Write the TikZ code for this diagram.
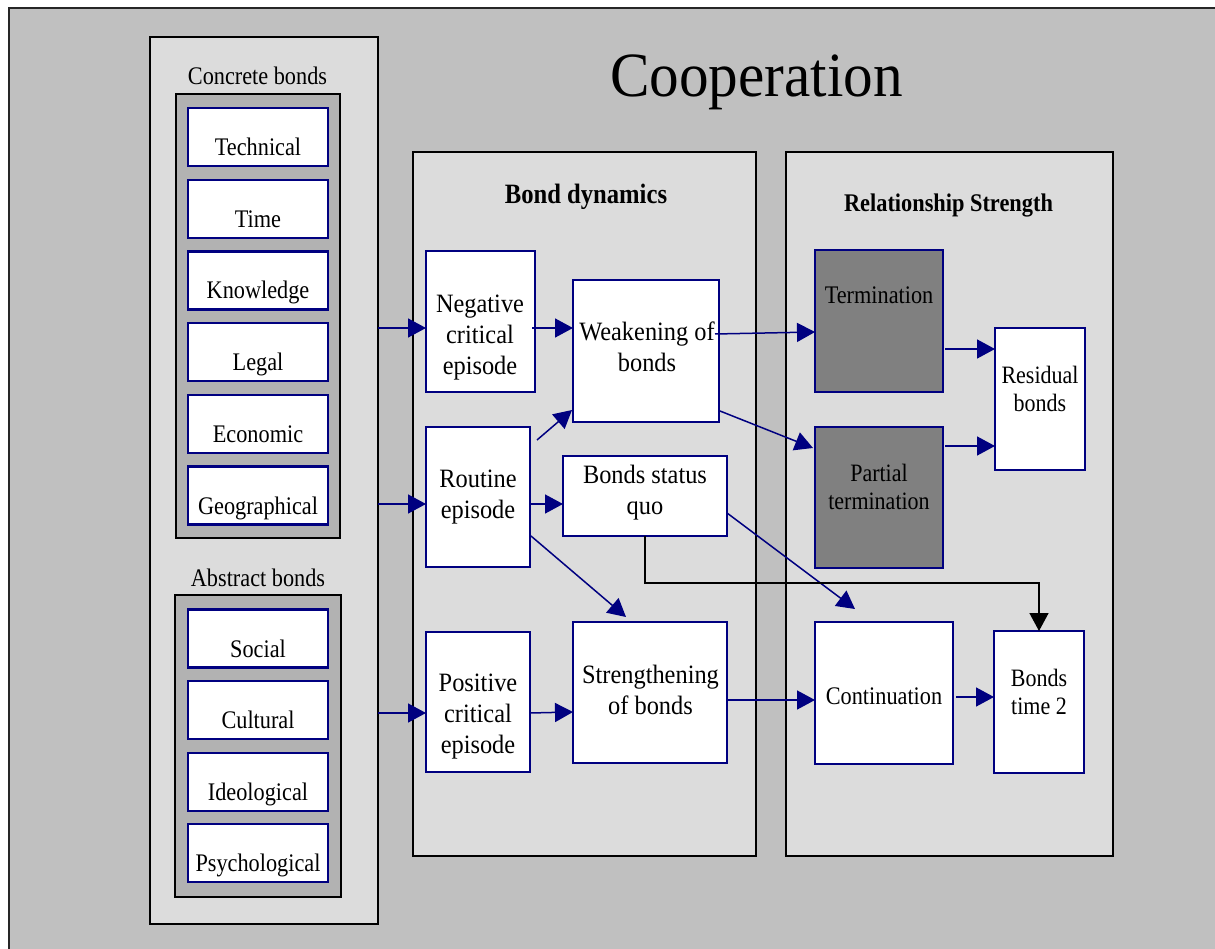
\documentclass[tikz,border=0pt]{standalone}
\usepackage{fontspec}
\setmainfont{Liberation Serif}[FakeStretch=0.88]
\newfontfamily\midfont{Liberation Serif}[FakeStretch=0.92]
\newfontfamily\titlefont{Liberation Serif}[FakeStretch=0.94]
\usetikzlibrary{arrows.meta,calc}
\definecolor{outerbg}{HTML}{C0C0C0}
\definecolor{panelbg}{HTML}{DCDCDC}
\definecolor{groupbg}{HTML}{B2B2B2}
\definecolor{darkbox}{HTML}{808080}
\definecolor{navy}{HTML}{000080}
\tikzset{
  panel/.style={draw=black, line width=2pt, fill=panelbg, inner sep=0pt, outer sep=0pt},
  group/.style={draw=black, line width=1.6pt, fill=groupbg, inner sep=0pt, outer sep=0pt},
  bondbox/.style={draw=navy, line width=2.5pt, fill=white, minimum width=140pt, minimum height=58pt, inner sep=0pt, outer sep=0pt},
  flowbox/.style={draw=navy, line width=2.5pt, fill=white, inner sep=0pt, outer sep=0pt},
  darkflow/.style={flowbox, fill=darkbox},
  lbl/.style={font=\fontsize{25.3}{28}\selectfont, anchor=base, inner sep=0pt},
  midlbl/.style={font=\midfont\fontsize{26.5}{31}\selectfont, align=center, inner sep=0pt},
  rlbl/.style={font=\fontsize{25}{28}\selectfont, align=center, inner sep=0pt},
  arr/.style={draw=navy, line width=1.5pt, -{Triangle[length=18pt,width=19pt]}},
  blkarr/.style={draw=black, line width=1.5pt, -{Triangle[length=18pt,width=19pt]}}
}
\begin{document}
\begin{tikzpicture}[x=1pt,y=-1pt]
\useasboundingbox (0,0) rectangle (1215,949);
\fill[white] (0,0) rectangle (1215,949);
\clip (0,0) rectangle (1215,949);
\draw[fill=outerbg, draw=black!85, line width=2pt] (9,8) rectangle (1235,970);

% panels
\node[panel, minimum width=228pt, minimum height=887pt] (lp) at (264,480.5) {};
\node[panel, minimum width=343pt, minimum height=704pt] (mp) at (584.5,504) {};
\node[panel, minimum width=327pt, minimum height=704pt] (rp) at (949.5,504) {};

% title
\node[font=\titlefont\fontsize{63}{70}\selectfont, anchor=base, inner sep=0pt] (title) at (756.5,97) {Cooperation};

% left panel
\node[lbl] (cbt) at (257.5,85) {Concrete bonds};
\node[group, minimum width=164pt, minimum height=444pt] (cb) at (258,316) {};
\node[bondbox] (tech) at (258,137) {};
\node[lbl] at (258,155.5) {Technical};
\node[bondbox] (time) at (258,209) {};
\node[lbl] at (258,227.5) {Time};
\node[bondbox] (know) at (258,280.5) {};
\node[lbl] at (258,299) {Knowledge};
\node[bondbox] (legal) at (258,352) {};
\node[lbl] at (258,370.5) {Legal};
\node[bondbox] (econ) at (258,424) {};
\node[lbl] at (258,442.5) {Economic};
\node[bondbox] (geo) at (258,495.5) {};
\node[lbl] at (258,514) {Geographical};

\node[lbl] (abt) at (258,586) {Abstract bonds};
\node[group, minimum width=166pt, minimum height=302pt] (ab) at (258,746) {};
\node[bondbox] (soc) at (258,638.5) {};
\node[lbl] at (258,657) {Social};
\node[bondbox] (cult) at (258,710) {};
\node[lbl] at (258,728.5) {Cultural};
\node[bondbox] (ideo) at (258,782) {};
\node[lbl] at (258,800.5) {Ideological};
\node[bondbox] (psy) at (258,853) {};
\node[lbl] at (258,871.5) {Psychological};

% middle panel
\node[font=\bfseries\fontsize{28}{30}\selectfont, anchor=base, inner sep=0pt] (bdt) at (586,204) {Bond dynamics};
\node[flowbox, minimum width=109pt, minimum height=141pt] (neg) at (480.5,321.5) {};
\node[midlbl] at (480,338) {Negative\\critical\\episode};
\node[flowbox, minimum width=146pt, minimum height=142pt] (weak) at (646,351) {};
\node[midlbl] at (647,346.5) {Weakening of\\bonds};
\node[flowbox, minimum width=104pt, minimum height=140pt] (rout) at (478,497) {};
\node[midlbl] at (478,496.6) {Routine\\episode};
\node[flowbox, minimum width=164pt, minimum height=80pt] (status) at (645,496) {};
\node[midlbl] at (645,493) {Bonds status\\quo};
\node[flowbox, minimum width=104pt, minimum height=140pt] (pos) at (478,702) {};
\node[midlbl] at (478,717) {Positive\\critical\\episode};
\node[flowbox, minimum width=154pt, minimum height=141pt] (strg) at (650,692.5) {};
\node[midlbl] at (650.5,689.5) {Strengthening\\of bonds};

% right panel
\node[font=\bfseries\fontsize{25.4}{28}\selectfont, anchor=base, inner sep=0pt] (rst) at (948.5,212) {Relationship Strength};
\node[darkflow, minimum width=128pt, minimum height=142pt] (term) at (879,321) {};
\node[lbl] at (879,304) {Termination};
\node[darkflow, minimum width=128pt, minimum height=141pt] (part) at (879,497.5) {};
\node[rlbl] at (879,486.5) {Partial\\termination};
\node[flowbox, minimum width=90pt, minimum height=142pt] (resid) at (1040,399) {};
\node[rlbl] at (1040,388.5) {Residual\\bonds};
\node[flowbox, minimum width=138pt, minimum height=142pt] (cont) at (884,693) {};
\node[lbl] at (884,704) {Continuation};
\node[flowbox, minimum width=90pt, minimum height=142pt] (bt) at (1039,702) {};
\node[rlbl] at (1039,691.5) {Bonds\\time 2};

% connectors
\draw[arr] (lp.east |- 0,328) -- (neg.west |- 0,328);
\draw[arr] (lp.east |- 0,504) -- (rout.west |- 0,504);
\draw[arr] (lp.east |- 0,713) -- (pos.west |- 0,713);
\draw[arr] ($(neg.east)+(-3,6.5)$) -- (weak.west |- 0,328);
\draw[arr] ($(rout.east)+(7,-57)$) -- ($(weak.west)+(-1,59)$);
\draw[arr] ($(rout.east)+(0,7)$) -- ($(status.west)+(0,8)$);
\draw[arr] ($(rout.east)+(1,39)$) -- ($(strg.north)+(-24,-5)$);
\draw[arr] ($(pos.east)+(0,11)$) -- ($(strg.west)+(0,19.5)$);
\draw[arr] ($(weak.east)+(-4,-17)$) -- ($(term.west)+(0,11)$);
\draw[arr] ($(weak.east)+(1,60)$) -- ($(part.west)+(-2,-49.5)$);
\draw[arr] ($(status.east)+(0,17)$) -- ($(cont.north)+(-29,-13)$);
\draw[blkarr] (status.south) -- (status.south |- 0,583) -| (bt.north);
\draw[arr] ($(strg.east)+(0,7.5)$) -- ($(cont.west)+(0,7)$);
\draw[arr] ($(cont.east)+(3,4)$) -- ($(bt.west)+(0,-5)$);
\draw[arr] ($(term.east)+(2,28)$) -- ($(resid.west)+(0,-50)$);
\draw[arr] ($(part.east)+(2,-51.5)$) -- ($(resid.west)+(0,47)$);
\end{tikzpicture}
\end{document}
